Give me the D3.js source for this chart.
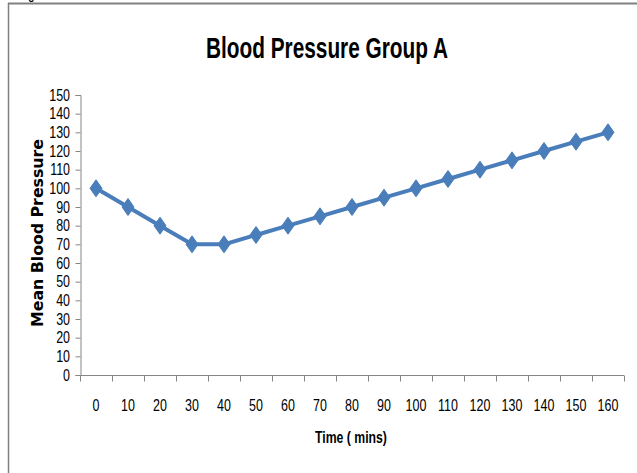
<!DOCTYPE html>
<html>
<head>
<meta charset="utf-8">
<script src="https://cdn.jsdelivr.net/npm/d3@7"></script>
<style>
  html, body { margin: 0; padding: 0; background: #fff; }
  svg { display: block; }
</style>
</head>
<body>
<svg id="chart" width="637" height="473"></svg>
<script>
// Time points (minutes) and mean blood pressure readings
const times = ["0","10","20","30","40","50","60","70","80","90","100","110","120","130","140","150","160"];
const pressure = [100, 90, 80, 70, 70, 75, 80, 85, 90, 95, 100, 105, 110, 115, 120, 125, 130];
const yTicks = [0,10,20,30,40,50,60,70,80,90,100,110,120,130,140,150];

const svg = d3.select("#chart");
const sans = "'Liberation Sans', Arial, sans-serif";
const squeeze = 0.78; // horizontal compression for the narrow label face

// frame of the figure
svg.append("line").attr("x1", 8).attr("x2", 637).attr("y1", 3.5).attr("y2", 3.5)
  .attr("stroke", "#808080").attr("stroke-width", 2);
svg.append("line").attr("x1", 8.5).attr("x2", 8.5).attr("y1", 3).attr("y2", 473)
  .attr("stroke", "#808080").attr("stroke-width", 1.5);
svg.append("text").attr("transform", `translate(28,-1) scale(0.7,1)`)
  .attr("font-family", sans).attr("font-size", 17).attr("fill", "#000").text("g");

const x = d3.scaleBand().domain(times).range([80, 624]);
const y = d3.scaleLinear().domain([0, 150]).range([375, 95]);

// title
svg.append("text").attr("x", 327).attr("y", 58).attr("text-anchor", "middle")
  .attr("font-family", sans).attr("font-weight", "bold").attr("font-size", 29)
  .attr("textLength", 242).attr("lengthAdjust", "spacingAndGlyphs")
  .attr("fill", "#000").text("Blood Pressure Group A");

// y axis
const yAxis = svg.append("g").attr("transform", "translate(80.5,0)")
  .call(d3.axisLeft(y).tickValues(yTicks).tickSize(5).tickFormat(""));
yAxis.select(".domain").attr("stroke", "#868686");
yAxis.selectAll(".tick line").attr("stroke", "#868686");
svg.append("g").selectAll("text").data(yTicks).enter().append("text")
  .attr("transform", d => `translate(70,${y(d)}) scale(${squeeze},1)`)
  .attr("dy", "0.36em").attr("text-anchor", "end")
  .attr("font-family", sans).attr("font-size", 16).attr("fill", "#000")
  .text(d => d);

// x axis: ticks at category boundaries
const xAxisG = svg.append("g").attr("transform", "translate(0,375.5)");
xAxisG.append("line").attr("x1", 80).attr("x2", 624).attr("stroke", "#868686");
const bounds = times.map(t => x(t)).concat([x.range()[1]]);
xAxisG.selectAll("line.tk").data(bounds).enter().append("line").attr("class", "tk")
  .attr("x1", d => Math.round(d) + 0.5).attr("x2", d => Math.round(d) + 0.5)
  .attr("y1", 0).attr("y2", 6).attr("stroke", "#868686");
xAxisG.selectAll("text").data(times).enter().append("text")
  .attr("transform", d => `translate(${x(d) + x.bandwidth() / 2},35) scale(${squeeze},1)`)
  .attr("text-anchor", "middle").attr("font-family", sans).attr("font-size", 16)
  .attr("fill", "#000").text(d => d);

// axis titles
svg.append("text").attr("transform", `translate(351,443) scale(0.72,1)`)
  .attr("text-anchor", "middle")
  .attr("font-family", sans).attr("font-weight", "bold").attr("font-size", 17)
  .attr("fill", "#000").text("Time ( mins)");
svg.append("text").attr("transform", "translate(43,233) rotate(-90)")
  .attr("text-anchor", "middle").attr("font-family", "'DejaVu Sans', sans-serif")
  .attr("font-weight", "bold").attr("font-size", 15)
  .attr("textLength", 188).attr("lengthAdjust", "spacingAndGlyphs")
  .attr("fill", "#000").text("Mean Blood Pressure");

// series line
const cx = (d, i) => x(times[i]) + x.bandwidth() / 2;
const line = d3.line().x(cx).y(d => y(d));
svg.append("path").datum(pressure).attr("d", line).attr("fill", "none")
  .attr("stroke", "#4a7ebb").attr("stroke-width", 4).attr("stroke-linejoin", "round");

// diamond markers
svg.selectAll("path.mk").data(pressure).enter().append("path").attr("class", "mk")
  .attr("transform", (d, i) => `translate(${cx(d, i)},${y(d)})`)
  .attr("d", "M0,-8.5 L6,0 L0,8.5 L-6,0 Z")
  .attr("fill", "#4a7ebb").attr("stroke", "#4a7ebb").attr("stroke-width", 1);
</script>
</body>
</html>
